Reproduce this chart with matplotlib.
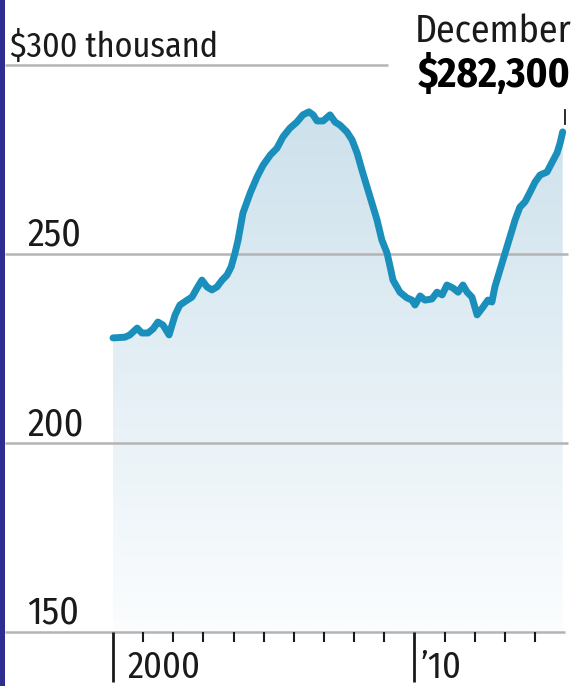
import matplotlib
matplotlib.use('Agg')
import matplotlib.pyplot as plt
import numpy as np
from matplotlib.colors import LinearSegmentedColormap
from matplotlib.patches import Polygon, Rectangle

# ---- data ----
years = [2000.00, 2000.40, 2000.56, 2000.80, 2000.96, 2001.16, 2001.33, 2001.49, 2001.66, 2001.86,
         2002.06, 2002.22, 2002.46, 2002.62, 2002.79, 2002.95, 2003.12, 2003.28, 2003.45, 2003.62,
         2003.78, 2003.92, 2004.05, 2004.15, 2004.31, 2004.55, 2004.78, 2004.98, 2005.22, 2005.44,
         2005.64, 2005.87, 2006.10, 2006.30, 2006.50, 2006.64, 2006.77, 2006.97, 2007.20, 2007.37,
         2007.53, 2007.76, 2007.93, 2008.10, 2008.26, 2008.43, 2008.59, 2008.76, 2008.92, 2009.09,
         2009.19, 2009.29, 2009.52, 2009.75, 2009.92, 2010.02, 2010.19, 2010.35, 2010.58, 2010.75,
         2010.92, 2011.08, 2011.28, 2011.45, 2011.61, 2011.75, 2011.91, 2012.08, 2012.28, 2012.44,
         2012.57, 2012.67, 2012.84, 2013.01, 2013.17, 2013.34, 2013.50, 2013.67, 2013.84, 2014.00,
         2014.17, 2014.40, 2014.57, 2014.73, 2014.83, 2014.92]
values = [227.8, 228.0, 228.6, 230.4, 229.1, 229.1, 230.2, 232.0, 231.2, 228.6,
          233.9, 236.5, 237.8, 238.6, 241.0, 243.1, 241.3, 240.5, 241.3, 243.1,
          244.4, 246.6, 250.3, 253.7, 260.8, 266.1, 270.4, 273.5, 276.2, 278.0,
          281.0, 283.3, 284.9, 286.8, 287.6, 286.8, 285.2, 285.2, 286.8, 284.9,
          284.1, 282.3, 280.2, 276.7, 272.2, 267.7, 263.5, 259.0, 253.7, 250.3,
          246.8, 243.1, 239.9, 238.4, 237.8, 236.5, 238.9, 237.8, 238.1, 239.9,
          239.2, 241.8, 241.0, 239.9, 241.8, 239.9, 238.6, 233.9, 236.0, 237.8,
          237.3, 241.3, 245.8, 250.3, 254.5, 259.0, 262.4, 263.8, 266.4, 269.0,
          270.9, 271.7, 274.3, 276.7, 279.2, 282.3]

grid_values = [150, 200, 250, 300]
grid_labels = ['150', '200', '250', '$300 thousand']
major_years = [2000, 2010]
major_labels = ['2000', '\u201910']
minor_years = [2001, 2002, 2003, 2004, 2005, 2006, 2007, 2008, 2009, 2011, 2012, 2013, 2014]
annot_month = 'December'
annot_value = '$282,300'

# ---- layout (pixel geometry of the reference) ----
W, H = 576, 686
X0PX, PXYR = 113, 30.14
Y300PX, PXU = 65, 3.78

def xd(px):
    return 2000 + (px - X0PX) / PXYR

def yd(py):
    return 300 - (py - Y300PX) / PXU

fig = plt.figure(figsize=(W / 100, H / 100), dpi=100)
ax = fig.add_axes([0, 0, 1, 1])
ax.axis('off')
renderer = fig.canvas.get_renderer()

line_color = '#1a8fbc'
text_color = '#1a1a1a'
grid_color = '#b4b4b4'
reg_font = ['Fira Sans Condensed', 'DejaVu Sans']
bold_font = ['Fira Sans Condensed', 'DejaVu Sans']


def fit_size(s, family, weight, target_px, base=28):
    t = fig.text(0, 0, s, family=family, fontweight=weight, fontsize=base)
    w = t.get_window_extent(renderer).width
    t.remove()
    return base * target_px / w

size_num = fit_size('250', reg_font, 'normal', 54)
size_unit = fit_size('$300 thousand', reg_font, 'normal', 208)
size_x = fit_size('2000', reg_font, 'normal', 73)
size_month = fit_size(annot_month, reg_font, 'normal', 157)
size_value = fit_size(annot_value, bold_font, 'bold', 153)

# gradient fill under the line
verts = [(years[0], 150)] + list(zip(years, values)) + [(years[-1], 150)]
patch = Polygon(verts, closed=True, facecolor='none', edgecolor='none')
ax.add_patch(patch)
cmap = LinearSegmentedColormap.from_list('g', ['#fbfdfe', '#cde1ec'])
grad = np.linspace(1, 0, 256).reshape(-1, 1)
im = ax.imshow(grad, extent=[years[0], years[-1], 150, max(values)], cmap=cmap,
               vmin=0, vmax=1, aspect='auto', origin='upper', zorder=1,
               interpolation='bilinear')
im.set_clip_path(patch)

# gridlines
for v in grid_values:
    right = 388 if v == 300 else (565 if v == 150 else 568)
    ax.plot([xd(5), xd(right)], [v, v], color=grid_color, lw=1.8,
            solid_capstyle='butt', zorder=2)

# line
ax.plot(years, values, color=line_color, lw=5.0, solid_joinstyle='round',
        solid_capstyle='round', zorder=3)

# ticks
ax.vlines(minor_years, yd(632), yd(642), color=text_color, lw=1.5, zorder=2)
ax.vlines(major_years, yd(632), yd(682), color=text_color, lw=2.0, zorder=2)

ax.set_xlim(xd(0), xd(W))
ax.set_ylim(yd(H), yd(0))

# y labels
for v, lab in zip(grid_values, grid_labels):
    x = 10 if lab.startswith('$') else 27
    fs = size_unit if lab.startswith('$') else size_num
    ax.text(xd(x), v + 8 / PXU, lab, family=reg_font, fontsize=fs,
            color=text_color, ha='left', va='baseline', zorder=4)

# x labels
for yr, lab, xpx in zip(major_years, major_labels, [127, 421]):
    ax.text(xd(xpx), yd(685.5), lab, family=reg_font, fontsize=size_x,
            color=text_color, ha='left', va='bottom', zorder=4)

# annotation
ax.text(xd(571), yd(42), annot_month, family=reg_font, fontsize=size_month,
        color=text_color, ha='right', va='baseline', zorder=4)
ax.text(xd(571), yd(87), annot_value, family=bold_font, fontweight='bold',
        fontsize=size_value, color='#000000', ha='right', va='baseline', zorder=4)
ax.plot([xd(565), xd(565)], [yd(110), yd(124)], color=text_color, lw=1.3, zorder=4)

# left border
fig.patches.append(Rectangle((0, 0), 5 / W, 1, transform=fig.transFigure,
                             facecolor='#2d2e8f', edgecolor='none', zorder=10))

fig.savefig('out.png', dpi=100)
